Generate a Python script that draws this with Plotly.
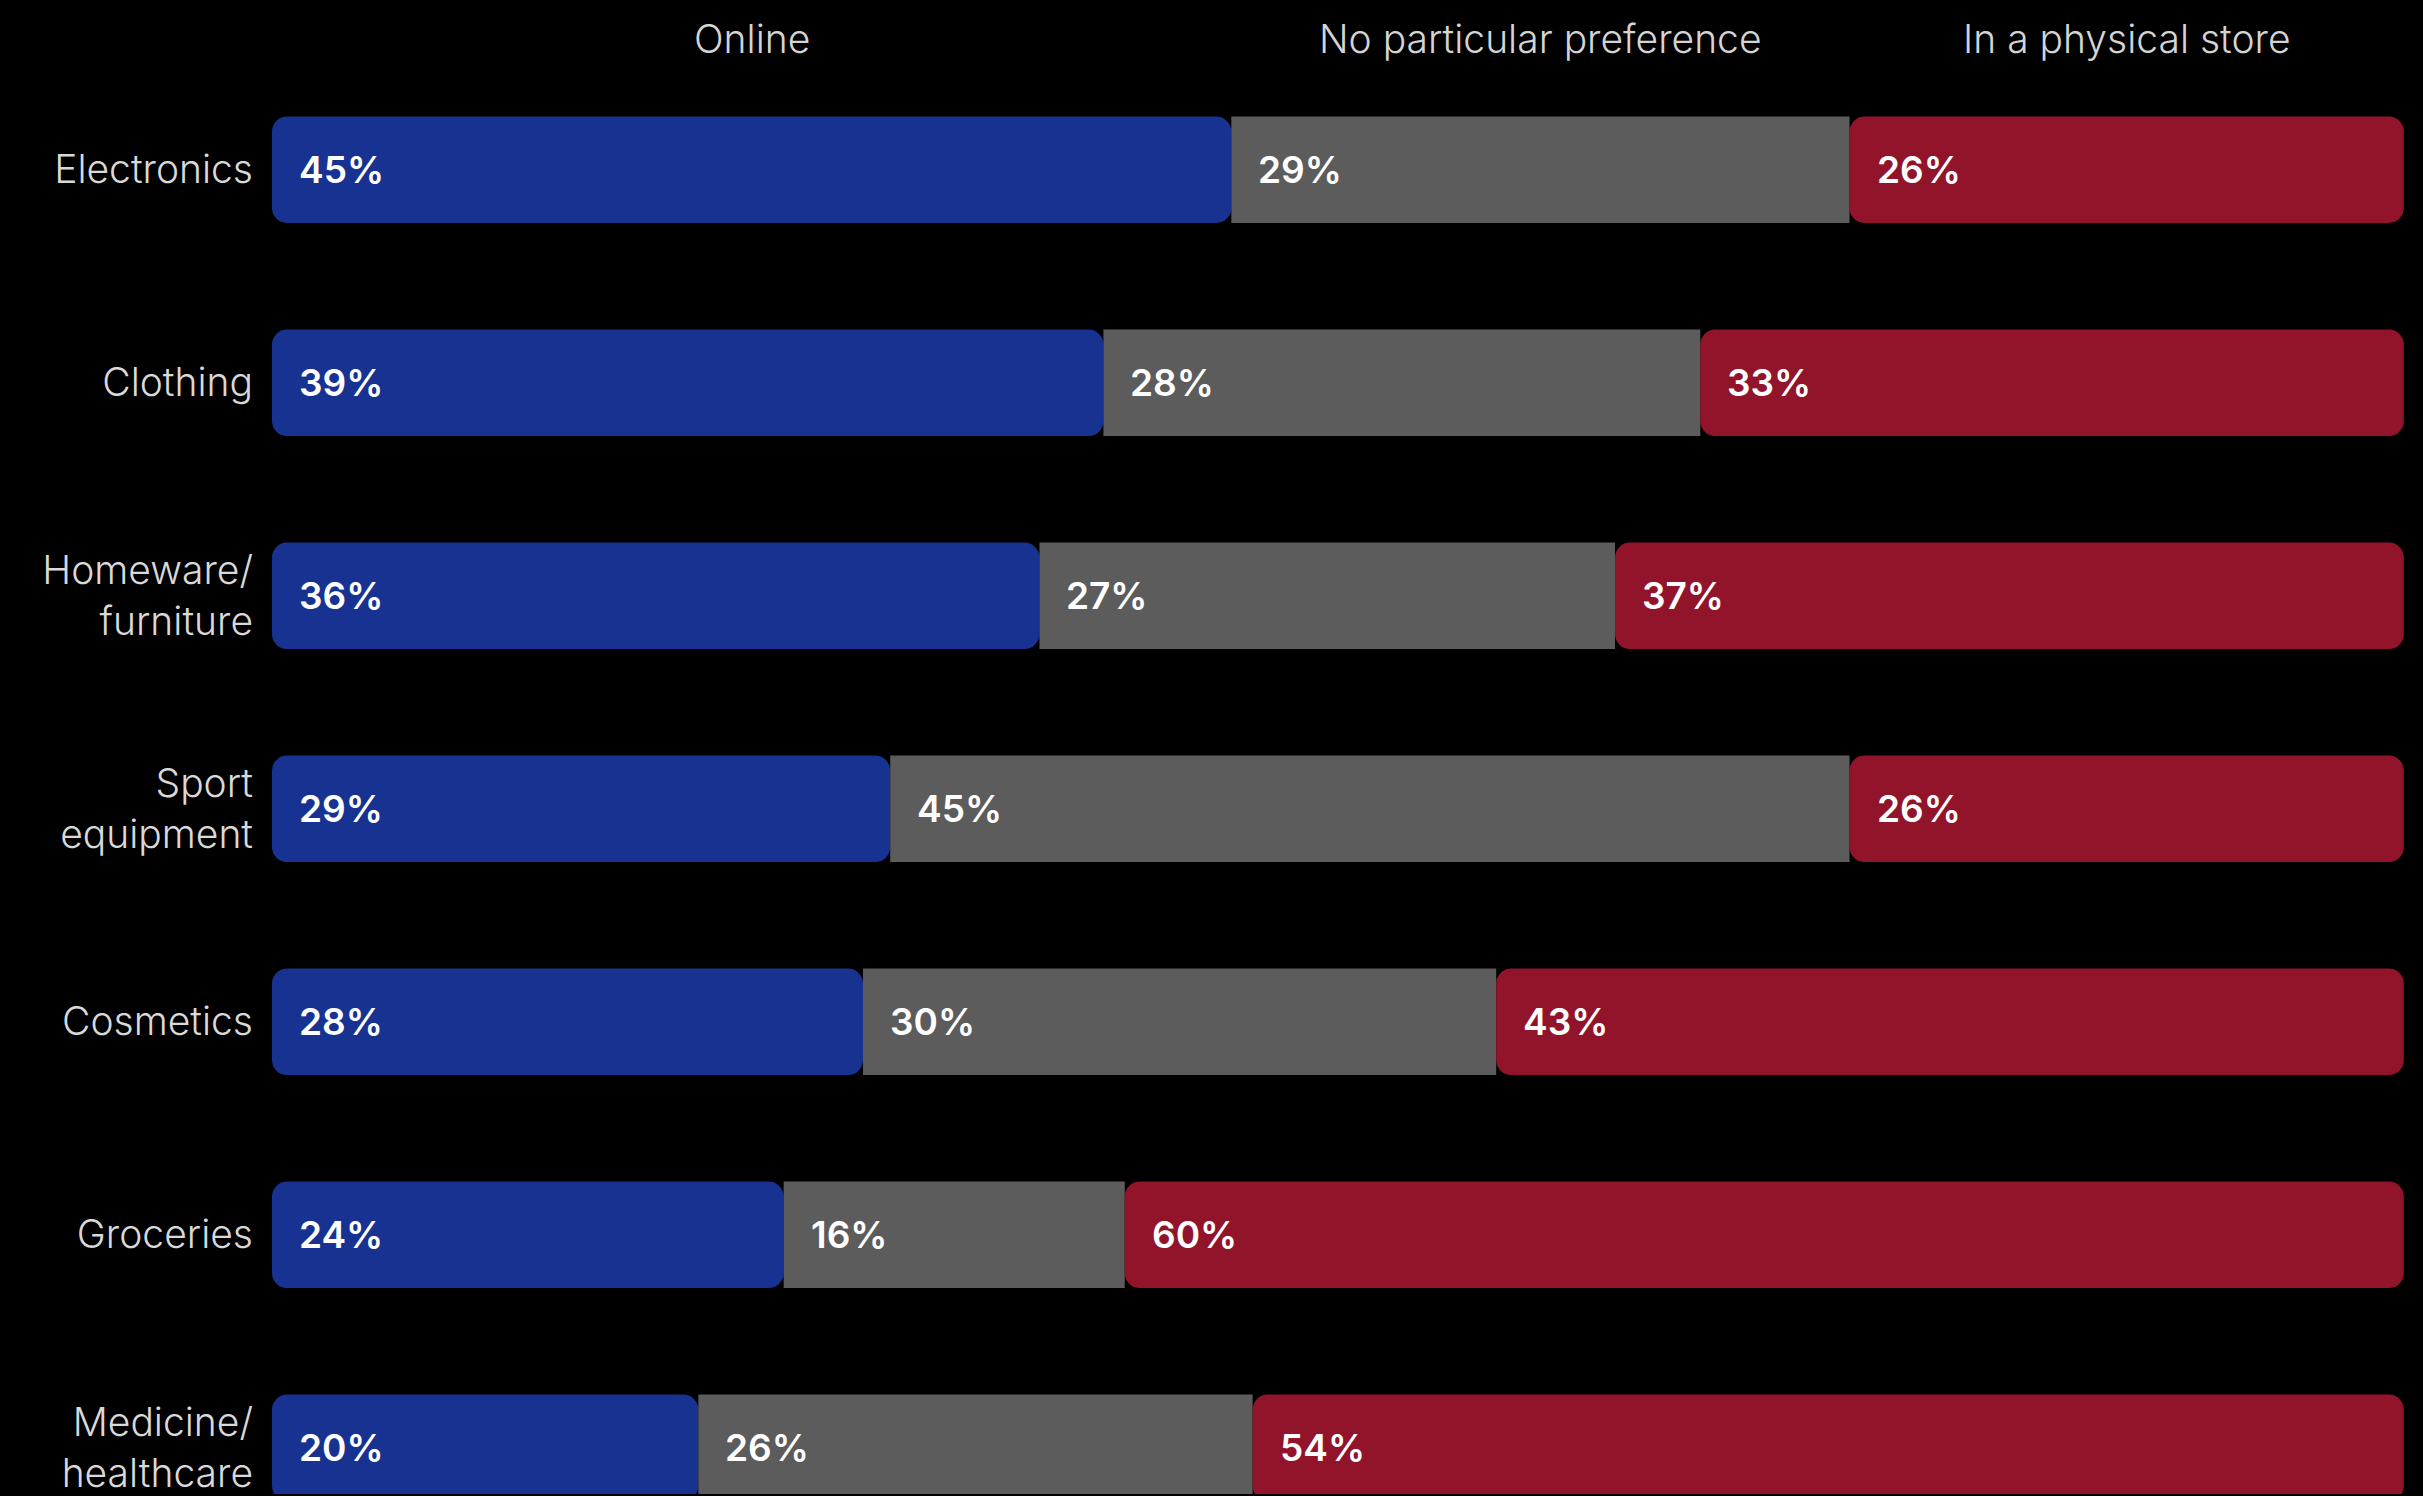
import plotly.graph_objects as go

# Shopping channel preference by product category (share of respondents, %)
categories = ["Electronics", "Clothing", "Homeware/<br>furniture", "Sport<br>equipment",
              "Cosmetics", "Groceries", "Medicine/<br>healthcare"]
online = [45, 39, 36, 29, 28, 24, 20]
no_preference = [29, 28, 27, 45, 30, 16, 26]
physical_store = [26, 33, 37, 26, 43, 60, 54]
series_names = ["Online", "No particular preference", "In a physical store"]

BLUE = "#173291"
GREY = "#5c5c5c"
RED = "#91142a"
FONT = "Inter"

# Rounded survey figures do not always add up to exactly 100,
# so each row is scaled to its own total to fill the full width.
totals = [a + b + c for a, b, c in zip(online, no_preference, physical_store)]
on_w = [v / t * 100 for v, t in zip(online, totals)]
np_w = [v / t * 100 for v, t in zip(no_preference, totals)]
ps_w = [v / t * 100 for v, t in zip(physical_store, totals)]
np_base = on_w
ps_base = [a + b for a, b in zip(on_w, np_w)]

fig = go.Figure()

# Online: drawn from its right edge back to 0 so the rounded end sits on the left
fig.add_trace(go.Bar(
    y=categories, x=[-v for v in on_w], base=on_w, orientation="h",
    marker=dict(color=BLUE, cornerradius=15, line=dict(width=0)),
    name=series_names[0], hoverinfo="skip",
))
# No particular preference: plain middle segment
fig.add_trace(go.Bar(
    y=categories, x=np_w, base=np_base, orientation="h",
    marker=dict(color=GREY, cornerradius=0, line=dict(width=0)),
    name=series_names[1], hoverinfo="skip",
))
# In a physical store: rounded on the right end
fig.add_trace(go.Bar(
    y=categories, x=ps_w, base=ps_base, orientation="h",
    marker=dict(color=RED, cornerradius=15, line=dict(width=0)),
    name=series_names[2], hoverinfo="skip",
))

annotations = []
# Percentage labels at the start of every segment
for i, cat in enumerate(categories):
    starts = [0, np_base[i], ps_base[i]]
    values = [online[i], no_preference[i], physical_store[i]]
    for s, v in zip(starts, values):
        annotations.append(dict(
            x=s, y=cat, xref="x", yref="y", text=f"{v}%", showarrow=False,
            xanchor="left", yanchor="middle", xshift=25,
            font=dict(family=FONT, size=37, color="#ffffff", weight=600),
        ))

# Column headers centred over the first row's segments
first_starts = [0, np_base[0], ps_base[0]]
first_widths = [on_w[0], np_w[0], ps_w[0]]
for name, s, w in zip(series_names, first_starts, first_widths):
    annotations.append(dict(
        x=s + w / 2, y=0.974, xref="x", yref="paper", text=name, showarrow=False,
        xanchor="center", yanchor="middle",
        font=dict(family=FONT, size=39, color="#d4d4d4", weight=300),
    ))

fig.update_layout(
    width=2423, height=1496,
    paper_bgcolor="#000000", plot_bgcolor="#000000",
    margin=dict(l=272, r=0, t=0, b=0),
    barmode="overlay", bargap=0.5, showlegend=False,
    annotations=annotations,
    xaxis=dict(range=[0, 100.9], visible=False, fixedrange=True),
    yaxis=dict(
        type="category", range=[6.217, -0.797], autorange=False,
        showgrid=False, zeroline=False, showline=False, ticks="",
        ticklabelstandoff=18,
        tickfont=dict(family=FONT, size=39, color="#d9d9d9", weight=300),
    ),
)

fig.write_html("out.html")
